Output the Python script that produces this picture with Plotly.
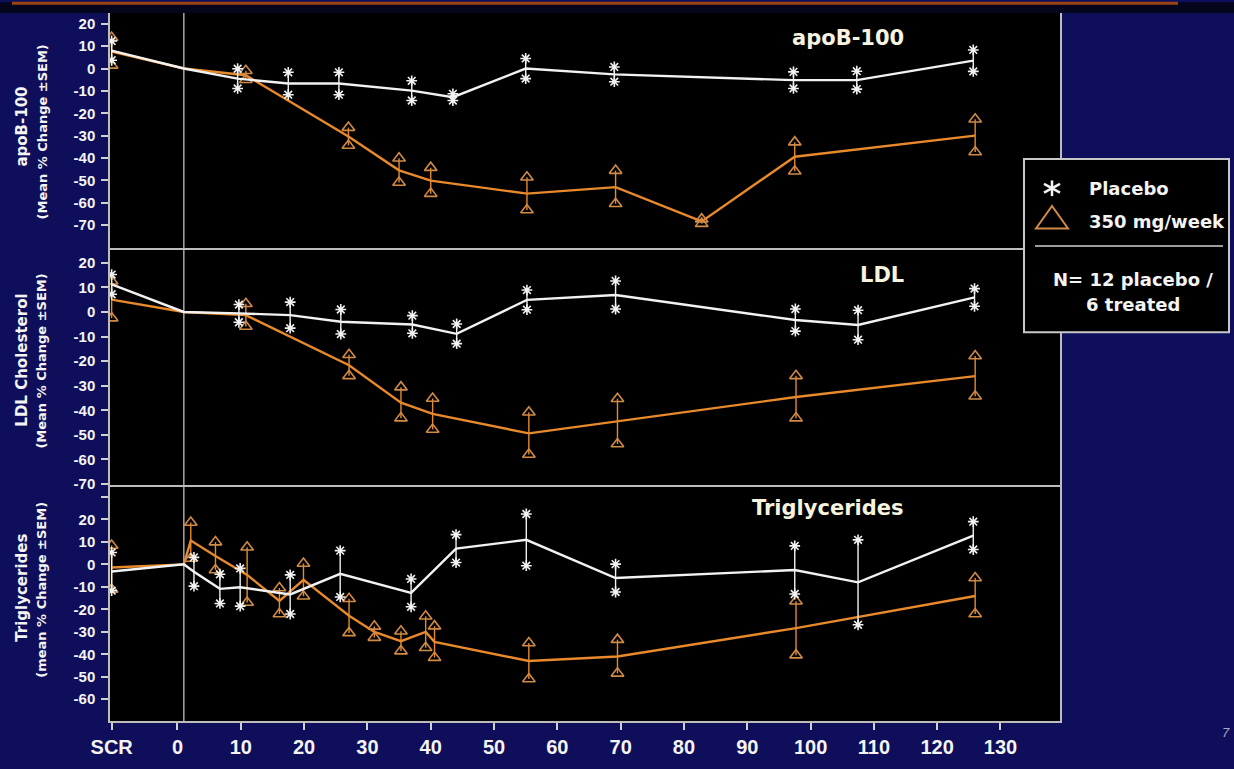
import plotly.graph_objects as go
from plotly.subplots import make_subplots

# ---------------- data (mean % change, SEM) ----------------
SCR_DAY = -10.4          # screening visit shown at the "SCR" tick
BASELINE_DAY = 1

X_TICK_VALUES = [SCR_DAY, 0, 10, 20, 30, 40, 50, 60, 70, 80, 90, 100, 110, 120, 130]
X_TICK_LABELS = ["SCR", "0", "10", "20", "30", "40", "50", "60", "70", "80", "90",
                 "100", "110", "120", "130"]

# apoB-100
APOB_PBO_DAYS = [SCR_DAY, 1, 9.5, 17.5, 25.5, 37, 43.5, 55, 69, 97.3, 107.3, 125.7]
APOB_PBO_MEAN = [8, 0, -4.5, -6.7, -6.7, -9.9, -12.8, 0, -2.6, -5.2, -5.2, 3.5]
APOB_PBO_SEM = [4.3, 0, 4.4, 5, 5, 4.4, 1.5, 4.5, 3.3, 3.7, 4, 4.8]
APOB_TRT_DAYS = [SCR_DAY, 1, 10.8, 27, 35, 40, 55.2, 69.2, 82.8, 97.5, 126]
APOB_TRT_MEAN = [7.6, 0, -3, -30.4, -45.5, -50.1, -55.9, -53, -68.3, -39.4, -30]
APOB_TRT_SEM = [6.2, 0, 2, 4, 5.4, 5.8, 7.3, 7.4, 1, 6.5, 7.3]

# LDL cholesterol
LDL_PBO_DAYS = [SCR_DAY, 1, 9.7, 17.8, 25.8, 37.1, 44.1, 55.2, 69.2, 97.6, 107.5, 125.9]
LDL_PBO_MEAN = [11.2, 0, -0.6, -1.3, -4, -5.1, -8.9, 4.9, 6.9, -3.3, -5.3, 5.9]
LDL_PBO_SEM = [4, 0, 3.6, 5.3, 5, 3.6, 4, 4, 5.7, 4.5, 6, 3.6]
LDL_TRT_DAYS = [SCR_DAY, 1, 10.8, 27.1, 35.3, 40.3, 55.5, 69.5, 97.7, 126]
LDL_TRT_MEAN = [5, 0, -1.3, -21.7, -36.9, -41.5, -49.4, -44.5, -34.6, -26.1]
LDL_TRT_SEM = [7.5, 0, 4.6, 4.3, 6.3, 6.3, 8.6, 9.2, 8.6, 8.2]

# Triglycerides
TG_PBO_DAYS = [SCR_DAY, 1, 2.6, 6.7, 9.9, 17.8, 25.7, 36.9, 44, 55.1, 69.2, 97.5, 107.5, 125.7]
TG_PBO_MEAN = [-3.2, 0, -3.3, -10.9, -10.2, -13.4, -4.2, -12.7, 7, 10.9, -6.1, -2.5, -8, 12.8]
TG_PBO_SEM = [8.5, 0, 6.4, 6.5, 8.4, 8.7, 10.3, 6.2, 6.2, 11.5, 6.2, 10.7, 18.9, 6.2]
TG_TRT_DAYS = [SCR_DAY, 1, 2.1, 6, 11, 16.1, 19.9, 27.1, 31.1, 35.3, 39.2, 40.6, 55.5, 69.5, 97.7, 126]
TG_TRT_MEAN = [-1.4, 0, 10.6, 3.7, -4.7, -16.3, -6.9, -22.9, -30.1, -34.2, -30.1, -34.5, -43, -41, -28.4, -14.1]
TG_TRT_SEM = [9.8, 0, 8, 6.2, 12.3, 5.8, 7.3, 7.6, 2.5, 4.4, 7, 7, 8, 7.5, 12, 8]

PANEL_TITLES = ["apoB-100", "LDL", "Triglycerides"]
Y_TITLE_1 = ["apoB-100", "LDL Cholesterol", "Triglycerides"]
Y_TITLE_2 = ["(Mean % Change ±SEM)", "(Mean % Change ±SEM)", "(mean % Change ±SEM)"]
Y_TICKS = [
    [20, 10, 0, -10, -20, -30, -40, -50, -60, -70],
    [20, 10, 0, -10, -20, -30, -40, -50, -60, -70],
    [30, 20, 10, 0, -10, -20, -30, -40, -50, -60],
]
Y_TICK_LABELS = [
    ["20", "10", "0", "-10", "-20", "-30", "-40", "-50", "-60", "-70"],
    ["20", "10", "0", "-10", "-20", "-30", "-40", "-50", "-60", "-70"],
    ["", "20", "10", "0", "-10", "-20", "-30", "-40", "-50", "-60"],
]
Y_RANGES = [[-80.2, 24.8], [-70.4, 26.0], [-69.7, 35.3]]
X_RANGE = [-10.66, 139.4]

LEGEND_NAMES = ["Placebo", "350 mg/week"]
N_TEXT = ["N= 12 placebo /", "6 treated"]

# ---------------- styling / layout ----------------
PAPER = "#0e0e5a"
WHITE = "#f2f2f2"
ORANGE = "#e8892b"
TRI = "#d08a45"
FRAME = "#bdbdbd"
TXT = "#f4f4f4"
BOLD_FONT = "DejaVu Sans"

L, T, W, H = 110, 11, 950, 723   # plot-area box in page pixels


def fx(px):
    return (px - L) / W


def fy(py):
    return (T + H - py) / H


fig = make_subplots(rows=3, cols=1, shared_xaxes=True, vertical_spacing=0)


def add_group(row, days, mean, sem, color, symbol, mcolor, msize):
    fig.add_trace(go.Scatter(
        x=days, y=mean, mode="lines",
        line=dict(color=color, width=2.4),
        error_y=dict(type="data", array=sem, visible=True, color=color,
                     thickness=1.4, width=0),
        showlegend=False, hoverinfo="skip"), row=row, col=1)
    ex = [d for d, s in zip(days, sem) if s > 0]
    hi = [m + s for m, s in zip(mean, sem) if s > 0]
    lo = [m - s for m, s in zip(mean, sem) if s > 0]
    fig.add_trace(go.Scatter(
        x=ex + ex, y=hi + lo, mode="markers",
        marker=dict(symbol=symbol, size=msize, color=mcolor,
                    line=dict(color=mcolor, width=1.6)),
        showlegend=False, hoverinfo="skip"), row=row, col=1)


groups = [
    (APOB_PBO_DAYS, APOB_PBO_MEAN, APOB_PBO_SEM, APOB_TRT_DAYS, APOB_TRT_MEAN, APOB_TRT_SEM),
    (LDL_PBO_DAYS, LDL_PBO_MEAN, LDL_PBO_SEM, LDL_TRT_DAYS, LDL_TRT_MEAN, LDL_TRT_SEM),
    (TG_PBO_DAYS, TG_PBO_MEAN, TG_PBO_SEM, TG_TRT_DAYS, TG_TRT_MEAN, TG_TRT_SEM),
]
for i, (pd_, pm, ps, td, tm, ts) in enumerate(groups):
    row = i + 1
    add_group(row, td, tm, ts, ORANGE, "triangle-up-open", TRI, 11)
    add_group(row, pd_, pm, ps, WHITE, "asterisk-open", WHITE, 9)

domains = [[fy(251), 1.0], [fy(493), fy(251)], [0.0, fy(493)]]

for i in range(3):
    n = "" if i == 0 else str(i + 1)
    fig.layout["yaxis" + n].update(
        domain=domains[i], range=Y_RANGES[i],
        tickvals=Y_TICKS[i], ticktext=Y_TICK_LABELS[i],
        showline=True, linecolor=FRAME, linewidth=1.5, mirror=True,
        ticks="outside", ticklen=7, tickwidth=1.5, tickcolor="#d0d0d0",
        showgrid=False, zeroline=False, ticklabelstandoff=3,
        tickfont=dict(family="Liberation Sans, Arial", size=15, color=TXT, weight="bold"))
    xa = dict(range=X_RANGE, showline=True, linecolor=FRAME, linewidth=1.5,
              mirror=(i == 0), showgrid=False, zeroline=False)
    if i == 2:
        xa.update(tickvals=X_TICK_VALUES, ticktext=X_TICK_LABELS, ticks="outside",
                  ticklen=7, tickwidth=1.5, tickcolor="#d0d0d0",
                  tickfont=dict(family="Liberation Sans Narrow, Arial Narrow, Liberation Sans",
                                size=20, color=TXT, weight="bold"))
    else:
        xa.update(showticklabels=False, ticks="")
    fig.layout["xaxis" + n].update(**xa)

shapes = []
# baseline vertical line through each panel
for i in range(3):
    n = "" if i == 0 else str(i + 1)
    shapes.append(dict(type="line", xref="x" + n, yref="y" + n + " domain",
                       x0=BASELINE_DAY, x1=BASELINE_DAY, y0=0, y1=1,
                       line=dict(color="#a8a8a8", width=1.5), layer="below"))
# top strip + red rule
shapes.append(dict(type="rect", xref="paper", yref="paper", x0=fx(0), x1=fx(1234),
                   y0=fy(11), y1=fy(0), fillcolor="#05051c", line=dict(width=0), layer="above"))
shapes.append(dict(type="line", xref="paper", yref="paper", x0=fx(12), x1=fx(1178),
                   y0=fy(1), y1=fy(1), line=dict(color="#9a4214", width=3), layer="above"))
# legend box
shapes.append(dict(type="rect", xref="paper", yref="paper", x0=fx(1024), x1=fx(1229),
                   y0=fy(337), y1=fy(160), fillcolor="black",
                   line=dict(color="#c8c8c8", width=2), layer="above"))
shapes.append(dict(type="line", xref="paper", yref="paper", x0=fx(1035), x1=fx(1223),
                   y0=fy(249), y1=fy(249), line=dict(color="#d0d0d0", width=1.5), layer="above"))
# legend asterisk (placebo)
cx, cy = 1052, 190
for dx, dy in [(0, 8), (8, 4.5), (8, -4.5)]:
    shapes.append(dict(type="line", xref="paper", yref="paper",
                       x0=fx(cx - dx), x1=fx(cx + dx), y0=fy(cy - dy), y1=fy(cy + dy),
                       line=dict(color=WHITE, width=2.5), layer="above"))
# legend triangle (treated)
tri_path = "M {} {} L {} {} L {} {} Z".format(fx(1036), fy(231), fx(1068), fy(231), fx(1052), fy(208))
shapes.append(dict(type="path", xref="paper", yref="paper", path=tri_path,
                   line=dict(color=TRI, width=2), layer="above"))

annotations = []
# panel titles
for title, ypx in zip(PANEL_TITLES, [37, 279, 516]):
    annotations.append(dict(text=title, xref="paper", yref="paper", x=fx(906), y=fy(ypx),
                            xanchor="right", yanchor="middle", showarrow=False,
                            font=dict(family=BOLD_FONT, size=21, color="#f6f3de", weight="bold")))
# y axis titles
for t1, t2, y1, y2 in zip(Y_TITLE_1, Y_TITLE_2, [127, 366, 598], [133, 367, 600]):
    annotations.append(dict(text=t1, xref="paper", yref="paper", x=fx(22), y=fy(y1),
                            xanchor="center", yanchor="middle", textangle=-90, showarrow=False,
                            font=dict(family=BOLD_FONT, size=15, color=TXT, weight="bold")))
    annotations.append(dict(text=t2, xref="paper", yref="paper", x=fx(42), y=fy(y2),
                            xanchor="center", yanchor="middle", textangle=-90, showarrow=False,
                            font=dict(family=BOLD_FONT, size=13, color=TXT, weight="bold")))
# legend texts
for name, ypx in zip(LEGEND_NAMES, [190, 224]):
    annotations.append(dict(text=name, xref="paper", yref="paper", x=fx(1087), y=fy(ypx),
                            xanchor="left", yanchor="middle", showarrow=False,
                            font=dict(family=BOLD_FONT, size=18, color=TXT, weight="bold")))
for line, ypx in zip(N_TEXT, [283, 309]):
    annotations.append(dict(text=line, xref="paper", yref="paper", x=fx(1133), y=fy(ypx),
                            xanchor="center", yanchor="middle", showarrow=False,
                            font=dict(family=BOLD_FONT, size=18, color=TXT, weight="bold")))
# page number
annotations.append(dict(text="<i>7</i>", xref="paper", yref="paper", x=fx(1226), y=fy(746),
                        xanchor="center", yanchor="middle", showarrow=False,
                        font=dict(family="Liberation Sans, Arial", size=13, color="#a8a8c8")))

fig.update_layout(
    width=1234, height=769, autosize=False,
    margin=dict(l=L, r=1234 - L - W, t=T, b=769 - T - H, pad=0),
    paper_bgcolor=PAPER, plot_bgcolor="black",
    showlegend=False, shapes=shapes, annotations=annotations,
)

fig.write_html("out.html", config={"displayModeBar": False},
               post_script="document.body.style.margin='0';")
